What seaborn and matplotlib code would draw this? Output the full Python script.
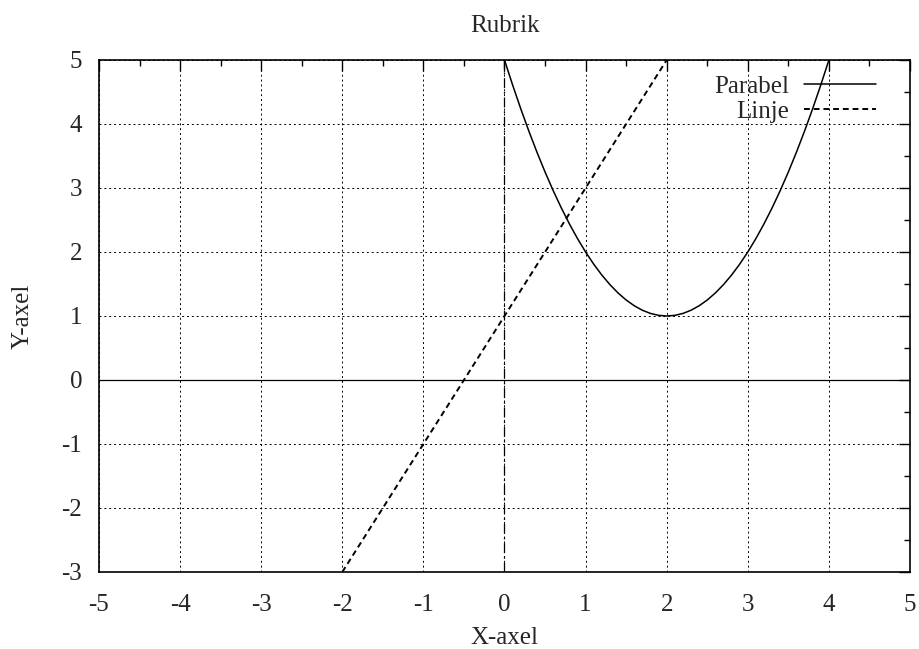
import pandas as pd
import matplotlib.pyplot as plt
import seaborn as sns

# Parabel points
parabel_x = [0.0, 0.1, 0.2, 0.3, 0.4, 0.5, 0.6, 0.7, 0.8, 0.9, 1.0,
             1.1, 1.2, 1.3, 1.4, 1.5, 1.6, 1.7, 1.8, 1.9, 2.0,
             2.1, 2.2, 2.3, 2.4, 2.5, 2.6, 2.7, 2.8, 2.9, 3.0,
             3.1, 3.2, 3.3, 3.4, 3.5, 3.6, 3.7, 3.8, 3.9, 4.0]
parabel_y = [5.0, 4.61, 4.24, 3.89, 3.56, 3.25, 2.96, 2.69, 2.44, 2.21, 2.0,
             1.81, 1.64, 1.49, 1.36, 1.25, 1.16, 1.09, 1.04, 1.01, 1.0,
             1.01, 1.04, 1.09, 1.16, 1.25, 1.36, 1.49, 1.64, 1.81, 2.0,
             2.21, 2.44, 2.69, 2.96, 3.25, 3.56, 3.89, 4.24, 4.61, 5.0]

# Linje end points
linje_x = [-2, 2]
linje_y = [-3, 5]

x_ticks = [-5, -4, -3, -2, -1, 0, 1, 2, 3, 4, 5]
y_ticks = [-3, -2, -1, 0, 1, 2, 3, 4, 5]

df_p = pd.DataFrame({"x": parabel_x, "y": parabel_y})
df_l = pd.DataFrame({"x": linje_x, "y": linje_y})

sns.set_style("white")
plt.rcParams["font.family"] = "serif"
plt.rcParams["font.serif"] = ["Liberation Serif", "DejaVu Serif"]
plt.rcParams["axes.unicode_minus"] = False

fig = plt.figure(figsize=(9.2, 6.49), dpi=100)
ax = fig.add_axes([99 / 920, 1 - 572 / 649, 811 / 920, 512 / 649])

# zero axes
ax.axhline(0, color="black", lw=0.9, zorder=1)
ax.axvline(0, color="black", lw=0.9, ls=(0, (8, 3, 1.5, 3)), zorder=1)

sns.lineplot(data=df_p, x="x", y="y", ax=ax, color="black", lw=1.1, label="Parabel", sort=False)
sns.lineplot(data=df_l, x="x", y="y", ax=ax, color="black", lw=1.4, ls=(0, (3, 2)), label="Linje")

ax.set_xlim(-5, 5)
ax.set_ylim(-3, 5)
ax.set_xticks(x_ticks)
ax.set_yticks(y_ticks)
ax.set_xticks([v + 0.5 for v in x_ticks[:-1]], minor=True)
ax.set_yticks([v + 0.5 for v in y_ticks[:-1]], minor=True)
ax.tick_params(which="both", direction="in", top=True, right=True, labelsize=18, color="black")
ax.tick_params(which="major", length=8, width=1)
ax.tick_params(axis="x", which="major", pad=16)
ax.tick_params(axis="y", which="major", pad=12)
ax.tick_params(which="minor", length=4, width=1)
ax.grid(True, which="major", color="black", ls=(0, (2, 3)), lw=0.7)
for s in ax.spines.values():
    s.set_color("black")
    s.set_linewidth(1.2)

ax.set_title("Rubrik", fontsize=18, pad=20)
ax.set_xlabel("X-axel", fontsize=18, labelpad=8)
ax.set_ylabel("Y-axel", fontsize=18, labelpad=20)

leg = ax.legend(loc="upper right", frameon=False, markerfirst=False, fontsize=18,
                handlelength=2.9, handletextpad=0.6, labelspacing=0.1,
                bbox_to_anchor=(0.971, 0.99), borderaxespad=0)
for t in leg.get_texts():
    t.set_ha("right")

plt.savefig("out.png", dpi=100)
